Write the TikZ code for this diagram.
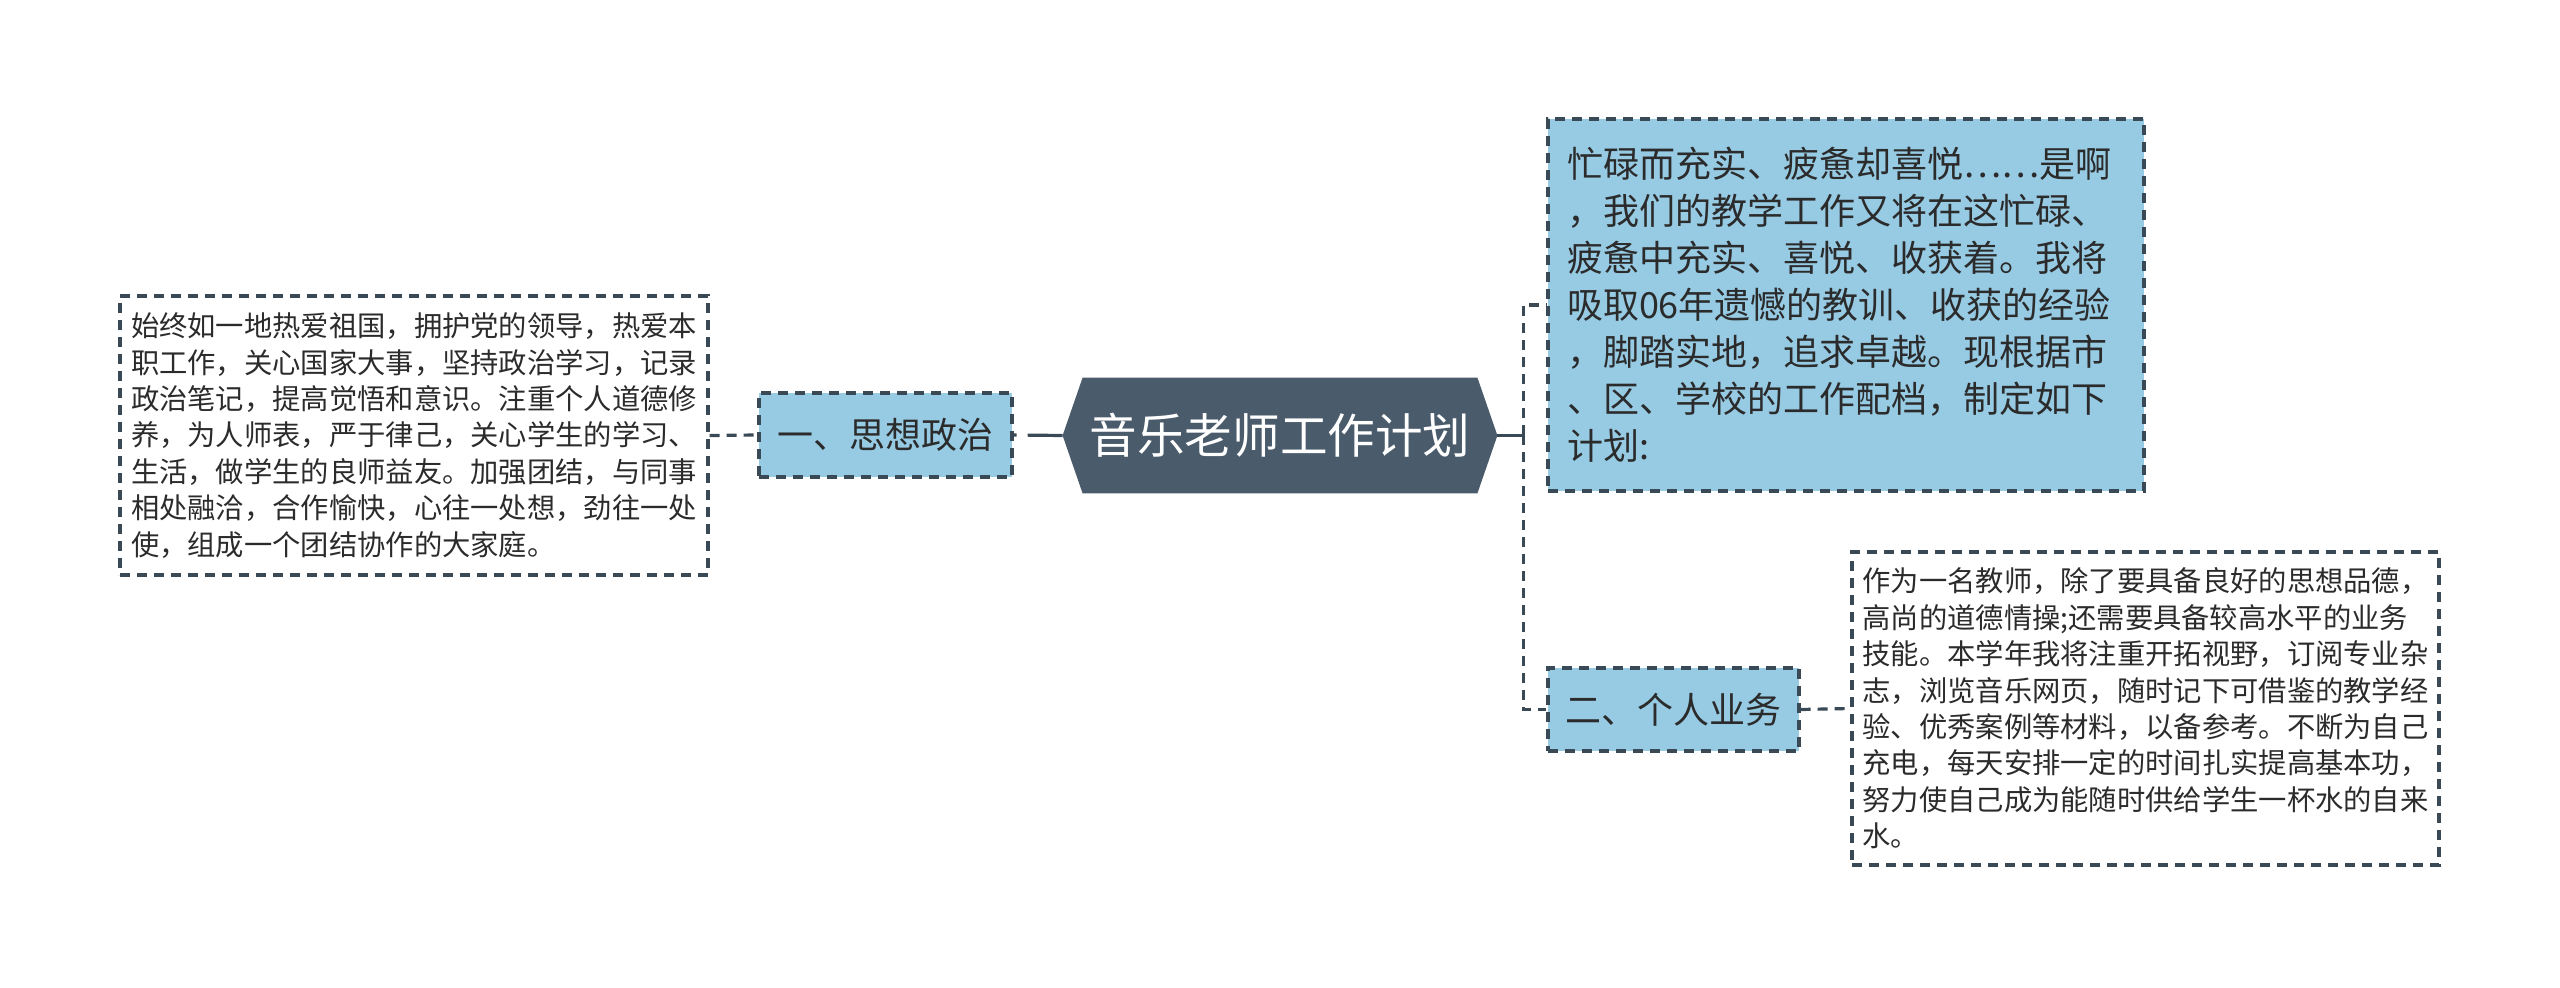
\documentclass[tikz,border=0pt]{standalone}
\usepackage{fontspec}
\setmainfont{Noto Sans CJK SC}
\usetikzlibrary{calc}
\definecolor{hexfill}{HTML}{4A5B6B}
\definecolor{bluefill}{HTML}{97CBE4}
\definecolor{edgecol}{HTML}{3A4956}
\definecolor{txt}{HTML}{2B2B2B}
\pgfdeclarelayer{bg}
\pgfsetlayers{bg,main}
\begin{document}
\begin{tikzpicture}[x=0.5pt,y=-0.5pt,
  dashbox/.style={draw=edgecol,line width=1.6pt,dash pattern=on 5pt off 3.5pt,inner sep=0pt,text=txt,align=left},
  smalltext/.style={font=\fontsize{14.15pt}{18.2pt}\selectfont},
  bigtext/.style={font=\fontsize{18pt}{23.5pt}\selectfont},
  topicbox/.style={dashbox,fill=bluefill,bigtext,align=center},
  conn/.style={draw=edgecol,line width=1.6pt,dash pattern=on 5pt off 3.5pt},
  solidconn/.style={draw=edgecol,line width=1.6pt}
]
\useasboundingbox (0,0) rectangle (2560,988);

% central node
\node[inner sep=0pt,minimum width=197pt,minimum height=57.5pt,text=white,
      font=\fontsize{23.8pt}{28pt}\selectfont] (c) at (1280,435.5) {音乐老师工作计划};
\coordinate (cL) at ($(c.west)+(-20,0)$);
\coordinate (cR) at ($(c.east)+(20,0)$);
\begin{pgfonlayer}{bg}
\fill[hexfill] (cL) -- (c.north west) -- (c.north east) -- (cR) -- (c.south east) -- (c.south west) -- cycle;
\end{pgfonlayer}

% topics
\node[topicbox,minimum width=126.5pt,minimum height=42pt] (b1) at (885.5,435) {一、思想政治};
\node[topicbox,minimum width=125.5pt,minimum height=41.5pt] (b2) at (1673.5,709.5) {二、个人业务};

% text boxes
\node[dashbox,fill=white,smalltext,minimum width=294pt,minimum height=139.5pt,text width=283pt] (t1) at (414,435.5)
{始终如一地热爱祖国，拥护党的领导，热爱本\\
职工作，关心国家大事，坚持政治学习，记录\\
政治笔记，提高觉悟和意识。注重个人道德修\\
养，为人师表，严于律己，关心学生的学习、\\
生活，做学生的良师益友。加强团结，与同事\\
相处融洽，合作愉快，心往一处想，劲往一处\\
使，组成一个团结协作的大家庭。};

\node[dashbox,fill=bluefill,bigtext,minimum width=298pt,minimum height=186pt,text width=279pt] (t2) at (1846,305)
{忙碌而充实、疲惫却喜悦……是啊\\
，我们的教学工作又将在这忙碌、\\
疲惫中充实、喜悦、收获着。我将\\
吸取06年遗憾的教训、收获的经验\\
，脚踏实地，追求卓越。现根据市\\
、区、学校的工作配档，制定如下\\
计划:};

\node[dashbox,fill=white,smalltext,minimum width=293.5pt,minimum height=156.5pt,text width=283pt] (t3) at (2145.5,708.5)
{作为一名教师，除了要具备良好的思想品德，\\
高尚的道德情操;还需要具备较高水平的业务\\
技能。本学年我将注重开拓视野，订阅专业杂\\
志，浏览音乐网页，随时记下可借鉴的教学经\\
验、优秀案例等材料，以备参考。不断为自己\\
充电，每天安排一定的时间扎实提高基本功，\\
努力使自己成为能随时供给学生一杯水的自来\\
水。};

% connectors
\draw[conn,dash pattern=on 17.5pt off 5.5pt] (cL) -- (b1.east);
\draw[conn] (t1.east) -- (b1.west);
\draw[solidconn] (cR) -- ++(26,0) coordinate (j);
\draw[conn] (j) |- (t2.west);
\draw[conn] (j) |- (b2.west);
\draw[conn] (b2.east) -- (t3.west);
\end{tikzpicture}
\end{document}
